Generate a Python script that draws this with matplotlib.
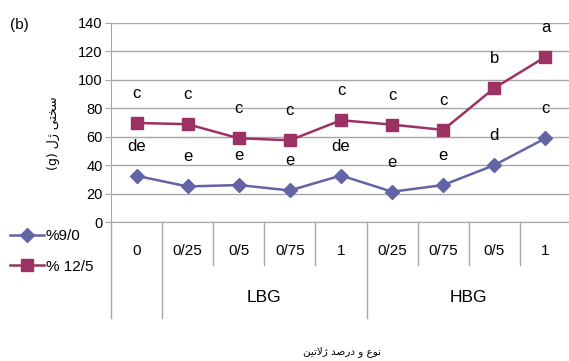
import matplotlib.pyplot as plt

plt.rcParams['font.family'] = ['Liberation Sans Narrow', 'Liberation Sans', 'DejaVu Sans']

categories = ['0', '0/25', '0/5', '0/75', '1', '0/25', '0/75', '0/5', '1']
group_of = ['', 'LBG', 'LBG', 'LBG', 'LBG', 'HBG', 'HBG', 'HBG', 'HBG']

hardness_9 = [32.5, 25.0, 26.0, 22.2, 32.7, 21.3, 26.0, 40.0, 58.9]
hardness_12 = [69.7, 68.8, 58.9, 57.5, 71.6, 68.5, 64.8, 94.2, 116.2]
letters_9 = ['de', 'e', 'e', 'e', 'de', 'e', 'e', 'd', 'c']
letters_12 = ['c', 'c', 'c', 'c', 'c', 'c', 'c', 'b', 'a']

# Persian labels, already shaped (presentation forms, visual order)
ylabel_fa = '(g) \uFEDD\uFB8A \uFEF0\uFE98\uFEA8\uFEB3'
xlabel_fa = ('\uFEE6\uFEF4\uFE97\uFEFB\uFB8A \uFEAA\uFEBB\uFEAD\uFEA9 '
             '\uFEED \uFEC9\uFEEE\uFEE7')

grid_col = '#a6a6a6'
blue = '#6264a5'
maroon = '#9c3264'

fig = plt.figure(figsize=(5.69, 3.61), dpi=100)
ax = fig.add_axes([111 / 569, 139 / 361, 460 / 569, 199 / 361])

x = list(range(len(categories)))
l9, = ax.plot(x, hardness_9, color=blue, lw=1.8, marker='D', ms=7.5,
              label='%9/0', clip_on=False, zorder=3)
l12, = ax.plot(x, hardness_12, color=maroon, lw=1.8, marker='s', ms=8,
               label='% 12/5', clip_on=False, zorder=3)

for xi, v, s in zip(x, hardness_9, letters_9):
    ax.annotate(s, (xi, v), xytext=(0, 18), textcoords='offset points',
                ha='center', va='baseline', fontsize=12)
for xi, v, s in zip(x, hardness_12, letters_12):
    ax.annotate(s, (xi, v), xytext=(0, 18), textcoords='offset points',
                ha='center', va='baseline', fontsize=12)

ax.set_xlim(-0.5, len(categories) - 0.5)
ax.set_ylim(0, 140)
ax.set_yticks(range(0, 141, 20))
ax.set_xticks([])
ax.yaxis.grid(True, color=grid_col, lw=1)
ax.set_axisbelow(True)
for side in ['top', 'right']:
    ax.spines[side].set_visible(False)
ax.spines['left'].set_color(grid_col)
ax.spines['bottom'].set_color(grid_col)
ax.tick_params(axis='y', length=4, color=grid_col, labelsize=10.5, pad=2)

# category axis below the plot: labels and separators
trans = ax.get_xaxis_transform()
for xi, c in enumerate(categories):
    ax.text(xi, -0.146, c, transform=trans, ha='center', va='center', fontsize=11)

for i in range(len(categories) + 1):
    b = i - 0.5
    if i == 0 or i == len(categories) or group_of[i] != group_of[i - 1]:
        depth = 0.482
    else:
        depth = 0.216
    ax.plot([b, b], [0, -depth], transform=trans, color=grid_col, lw=1, clip_on=False)

for g in ['LBG', 'HBG']:
    idx = [i for i, name in enumerate(group_of) if name == g]
    ax.text((idx[0] + idx[-1]) / 2, -0.377, g, transform=trans,
            ha='center', va='center', fontsize=12.5)

fig.text(53 / 569, 1 - 133 / 361, ylabel_fa, rotation=90, ha='center', va='center',
         fontsize=9, family='DejaVu Sans')
fig.text(342 / 569, 1 - 352 / 361, xlabel_fa, ha='center', va='center',
         fontsize=7.5, family='DejaVu Sans')
fig.text(10 / 569, 1 - 25 / 361, '(b)', ha='left', va='center', fontsize=11)

fig.legend(handles=[l9, l12], loc='upper left', bbox_to_anchor=(10 / 569, 1 - 229 / 361),
           frameon=False, fontsize=11, handlelength=2.2, handletextpad=0.15,
           labelspacing=1.1, borderpad=0, borderaxespad=0)

fig.savefig('out.png', dpi=100)
